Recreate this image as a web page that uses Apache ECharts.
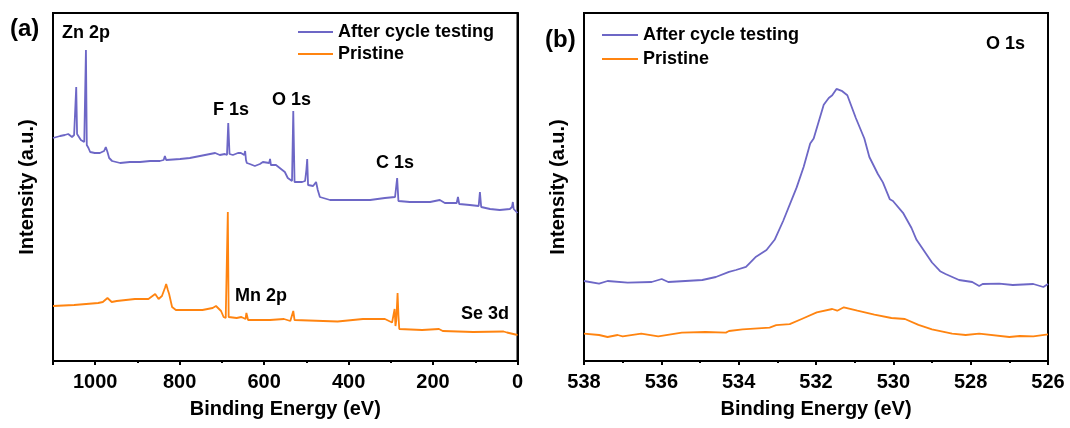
<!DOCTYPE html>
<html>
<head>
<meta charset="utf-8">
<script src="https://cdn.jsdelivr.net/npm/echarts@6/dist/echarts.min.js"></script>
<style>
html,body{margin:0;padding:0;background:#fff;}
#chart{width:1070px;height:428px;}
</style>
</head>
<body>
<div id="chart"></div>
<script>
// ---------- DATA ----------
const seriesNames = ['After cycle testing', 'Pristine'];

// Panel (a): survey spectrum
const surveyAfterE = [1100,1083,1072,1064,1055,1050,1047,1045,1043,1040,1034,1026,1024,1022,1020,1016,1012,1001,989,979,975,971,967,960,941,918,894,870,847,838,835,832,799,776,752,728,716,705,693,688,685,682,674,662,655,647,645,643,641,634,622,610,603,588,586,584,581,572,560,551,544,534,531,528,510,503,500,498,496,484,477,473,468,444,397,349,314,290,288,285,282,278,255,231,207,184,172,144,141,138,136,113,92,89,86,82,65,42,18,13,11,9,6,0];
const surveyAfterI = [223,225,226,227,224,226,227,274,227,226,221,219,220,311,216,213,209,208,208,210,214,209,203,200,198,199,199,200,200,201,205,201,202,203,205,207,208,206,207,206,238,207,206,208,208,206,210,201,198,197,195,197,199,198,202,196,195,196,192,189,183,180,250,179,179,180,191,202,176,175,179,171,164,161,161,161,163,164,163,183,160,159,159,159,159,161,158,158,164,157,156,156,155,169,154,153,152,151,152,154,159,152,151,148];

const surveyPristineE = [1100,1050,993,982,971,961,949,906,874,858,850,842,835,832,828,825,818,809,746,722,714,702,696,691,688,686,684,682,665,654,650,644,642,638,586,553,538,534,531,528,526,426,366,314,297,293,291,289,287,284,282,280,226,186,177,105,33,30,25,0];
const surveyPristineI = [55,56,58,59,63,59,60,62,62,67,62,65,73,77,71,67,54,51,51,53,55,50,44,43,43,149,44,44,43,44,44,42,48,41,41,42,40,41,50,41,40,39.5,42,42,38.5,38,52,35,41,68,46,32,31,32,30,29,29.5,31,28.5,26];

// Panel (b): O 1s high-resolution spectrum
const o1sAfterE = [538.0,537.61,537.39,536.87,536.25,535.99,535.82,534.94,534.59,534.25,534.07,533.81,533.55,533.28,533.07,532.85,532.5,532.32,532.15,532.06,531.8,531.67,531.58,531.47,531.32,531.19,530.97,530.75,530.62,530.4,530.27,530.09,530.01,529.75,529.53,529.4,529.0,528.79,528.65,528.3,527.96,527.78,527.69,527.26,526.91,526.38,526.12,526.0];
const o1sAfterI = [80,77.4,80,78.4,79,82,79,81,84,89.2,91,94.2,104.3,111,121.2,140,173.6,194,217.5,222.5,256.3,263,265.7,272.1,269.8,265.7,243,222.5,204,187,178.6,161.7,160,148.2,133,121.2,98.5,89.8,87,81,79,75,77,77.4,76,77,74,77];

const o1sPristineE = [538.0,537.61,537.39,537.13,537.0,536.52,536.08,535.47,534.86,534.33,534.25,533.9,533.2,533.03,532.68,532.37,531.98,531.58,531.45,531.28,530.93,530.49,530.05,529.7,529.35,529.0,528.48,528.13,527.78,527.0,526.73,526.38,526.0];
const o1sPristineI = [27.4,26,24,26,24.6,27.4,24.6,28.4,29,28.4,30,31.7,33.4,35.8,36.8,42,48.6,52,50.3,53.7,50.3,46.3,43,42,36.1,31.7,27.4,26,27.4,24,25,24.6,26.7];

const surveyTicks = {min: 0, max: 1100, interval: 200};
const o1sTicks = {min: 526, max: 538, interval: 2};

// ---------- CHART ----------
const FONT = '"Liberation Sans", Arial, Helvetica, sans-serif';
const PURPLE = '#6d67c6';
const ORANGE = '#ff8410';

const zip = (xs, ys) => xs.map((x, i) => [x, ys[i]]);

function xAxisCfg(gridIndex, t, hideMax) {
  return {
    type: 'value', gridIndex, inverse: true,
    min: t.min, max: t.max, interval: t.interval,
    name: 'Binding Energy (eV)', nameLocation: 'middle', nameGap: 38,
    nameTextStyle: {fontFamily: FONT, fontWeight: 'bold', fontSize: 20, color: '#000'},
    axisLine: {show: true, lineStyle: {color: '#000', width: 2}},
    axisTick: {show: true, inside: false, length: 4, lineStyle: {color: '#000', width: 2}},
    minorTick: {show: true, splitNumber: 2, length: 2, lineStyle: {color: '#000', width: 2}},
    splitLine: {show: false},
    axisLabel: {fontFamily: FONT, fontWeight: 'bold', fontSize: 20, color: '#000', margin: 11,
      showMaxLabel: !hideMax, formatter: v => String(v)},
  };
}
function yAxisCfg(gridIndex, gap) {
  return {
    type: 'value', gridIndex, min: 0, max: 348,
    name: 'Intensity (a.u.)', nameLocation: 'middle', nameGap: gap, nameRotate: 90,
    nameTextStyle: {fontFamily: FONT, fontWeight: 'bold', fontSize: 20, color: '#000'},
    axisLine: {show: true, lineStyle: {color: '#000', width: 2}},
    axisTick: {show: false}, axisLabel: {show: false}, splitLine: {show: false},
  };
}
function lineSeries(name, xi, data, color) {
  return {
    type: 'line', name, xAxisIndex: xi, yAxisIndex: xi, data,
    showSymbol: false, symbol: 'none', smooth: false, animation: false,
    lineStyle: {color, width: 1.8}, itemStyle: {color},
  };
}
function txt(text, x, y, size) {
  return {type: 'text', x, y, style: {text, fill: '#000',
    font: 'bold ' + (size || 18) + 'px ' + FONT, textAlign: 'left', textVerticalAlign: 'middle'}};
}

const chart = echarts.init(document.getElementById('chart'), null, {renderer: 'canvas'});
chart.setOption({
  backgroundColor: '#fff',
  animation: false,
  grid: [
    {left: 53, top: 13, right: 552.5, bottom: 67, show: true, borderColor: '#000', borderWidth: 2, containLabel: false},
    {left: 584, top: 13, right: 22, bottom: 67, show: true, borderColor: '#000', borderWidth: 2, containLabel: false},
  ],
  xAxis: [xAxisCfg(0, surveyTicks, true), xAxisCfg(1, o1sTicks, false)],
  yAxis: [yAxisCfg(0, 16), yAxisCfg(1, 16)],
  legend: [
    {left: 293, top: 18, orient: 'vertical', itemWidth: 35, itemHeight: 2, itemGap: 4, icon: 'rect',
     data: seriesNames, selectedMode: false,
     textStyle: {fontFamily: FONT, fontWeight: 'bold', fontSize: 18, color: '#000', lineHeight: 18}},
    {left: 597, top: 21, orient: 'vertical', itemWidth: 36, itemHeight: 2, itemGap: 6, icon: 'rect',
     data: seriesNames, selectedMode: false,
     textStyle: {fontFamily: FONT, fontWeight: 'bold', fontSize: 18, color: '#000', lineHeight: 18}},
  ],
  series: [
    lineSeries(seriesNames[0], 0, zip(surveyAfterE, surveyAfterI), PURPLE),
    lineSeries(seriesNames[1], 0, zip(surveyPristineE, surveyPristineI), ORANGE),
    lineSeries(seriesNames[0], 1, zip(o1sAfterE, o1sAfterI), PURPLE),
    lineSeries(seriesNames[1], 1, zip(o1sPristineE, o1sPristineI), ORANGE),
  ],
  graphic: [
    txt('(a)', 10, 29, 24),
    txt('Zn 2p', 62, 33),
    txt('F 1s', 213, 110),
    txt('O 1s', 272, 100),
    txt('C 1s', 376, 163),
    txt('Mn 2p', 235, 296),
    txt('Se 3d', 461, 314),
    txt('(b)', 545, 40, 24),
    txt('O 1s', 986, 44),
  ],
});
</script>
</body>
</html>
